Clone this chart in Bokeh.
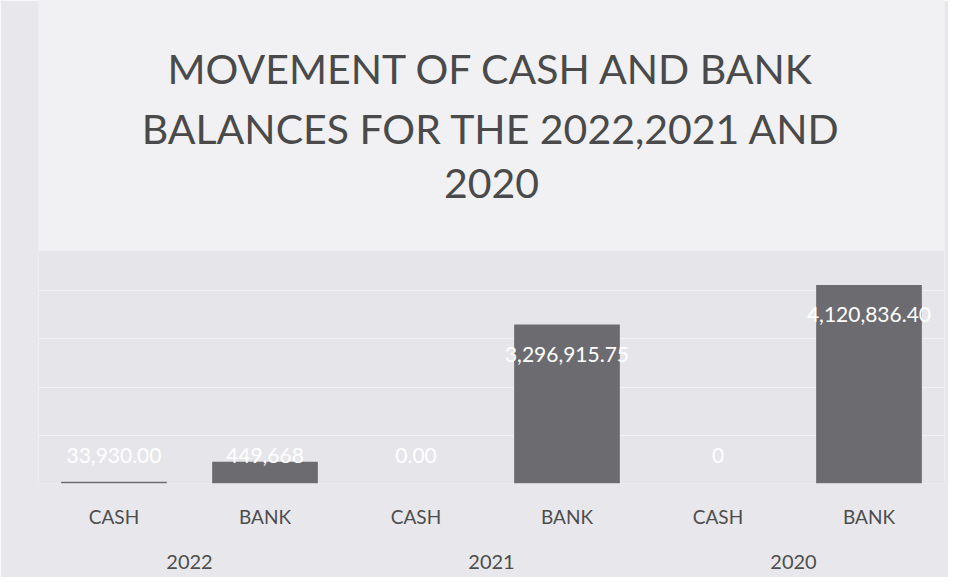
from bokeh.plotting import figure
from bokeh.models import (FactorRange, Range1d, ColumnDataSource, FixedTicker, LabelSet, Label,
                          BoxAnnotation, CategoricalAxis)
from bokeh.embed import file_html
from bokeh.resources import INLINE
from bokeh.core.properties import value

years = ["2022", "2021", "2020"]
accounts = ["CASH", "BANK"]
cash_values = [33930.00, 0.00, 0.00]
bank_values = [449668.00, 3296915.75, 4120836.40]
cash_labels = ["33,930.00", "0.00", "0"]
bank_labels = ["449,668", "3,296,915.75", "4,120,836.40"]
title_lines = ["MOVEMENT OF CASH AND BANK", "BALANCES FOR THE 2022,2021 AND", "2020"]

factors, vals, texts = [], [], []
for i, y in enumerate(years):
    factors += [(y, "CASH"), (y, "BANK")]
    vals += [cash_values[i], bank_values[i]]
    texts += [cash_labels[i], bank_labels[i]]

# layout constants (pixels of the frame -> data units)
FRAME_H = 483
PX_PER_UNIT = 48.2 / 1e6
Y_END = FRAME_H / PX_PER_UNIT

def px_to_y(px_from_top):
    return (FRAME_H - px_from_top) / PX_PER_UNIT

label_y = [max(v - 620000, 580000) for v in vals]
src = ColumnDataSource(dict(x=factors, top=vals, text=texts, ly=label_y))

p = figure(width=948, height=577, output_backend="svg", toolbar_location=None,
           x_range=FactorRange(*factors, group_padding=0, range_padding=0),
           y_range=Range1d(0, Y_END),
           min_border_left=38, min_border_right=4, min_border_top=0, min_border_bottom=94)

# lighter band behind the title area
p.add_layout(BoxAnnotation(bottom=px_to_y(250), fill_color="#f1f1f4", fill_alpha=1.0,
                           line_color=None, level="underlay"))

p.vbar(x="x", top="top", width=0.7, source=src, fill_color="#6c6c70", line_color=None)
p.add_layout(LabelSet(x="x", y="ly", text="text", source=src, text_color="white",
                      text_font=value("Lato"), text_font_size="21px", text_align="center",
                      text_baseline="middle"))

center_x = len(factors) / 2
for line, py in zip(title_lines, [68, 128, 183]):
    p.add_layout(Label(x=center_x, y=px_to_y(py), text=line, text_font="Lato",
                       text_font_size="41px", text_color="#4a4a4a",
                       text_align="center", text_baseline="middle"))

p.background_fill_color = "#e6e6ea"
p.border_fill_color = "#e8e8ec"
p.outline_line_color = None
p.xgrid.grid_line_color = None
p.ygrid.ticker = FixedTicker(ticks=[1e6, 2e6, 3e6, 4e6])
p.ygrid.grid_line_color = "white"
p.ygrid.grid_line_alpha = 0.45
p.yaxis.visible = False

def plain(ax):
    ax.axis_line_color = None
    ax.major_tick_line_color = None
    ax.minor_tick_line_color = None
    ax.major_tick_out = 0
    ax.major_tick_in = 0
    ax.minor_tick_out = 0
    ax.minor_tick_in = 0
    ax.separator_line_alpha = 0
    ax.axis_label_standoff = 0

# axis A: account labels (CASH / BANK)
ax = p.xaxis[0]
plain(ax)
ax.major_label_text_font = "Lato"
ax.major_label_text_font_size = "19px"
ax.major_label_text_color = "#4d4d4d"
ax.major_label_standoff = 21
ax.group_text_font_size = "1px"
ax.group_text_alpha = 0

# axis B: year labels
ax2 = CategoricalAxis()
plain(ax2)
ax2.major_label_text_font_size = "1px"
ax2.major_label_text_alpha = 0
ax2.major_label_standoff = 24
ax2.group_text_font = "Lato"
ax2.group_text_font_size = "20px"
ax2.group_text_font_style = "normal"
ax2.group_text_color = "#4d4d4d"
p.add_layout(ax2, "below")

open("out.html", "w").write(file_html(p, INLINE))
